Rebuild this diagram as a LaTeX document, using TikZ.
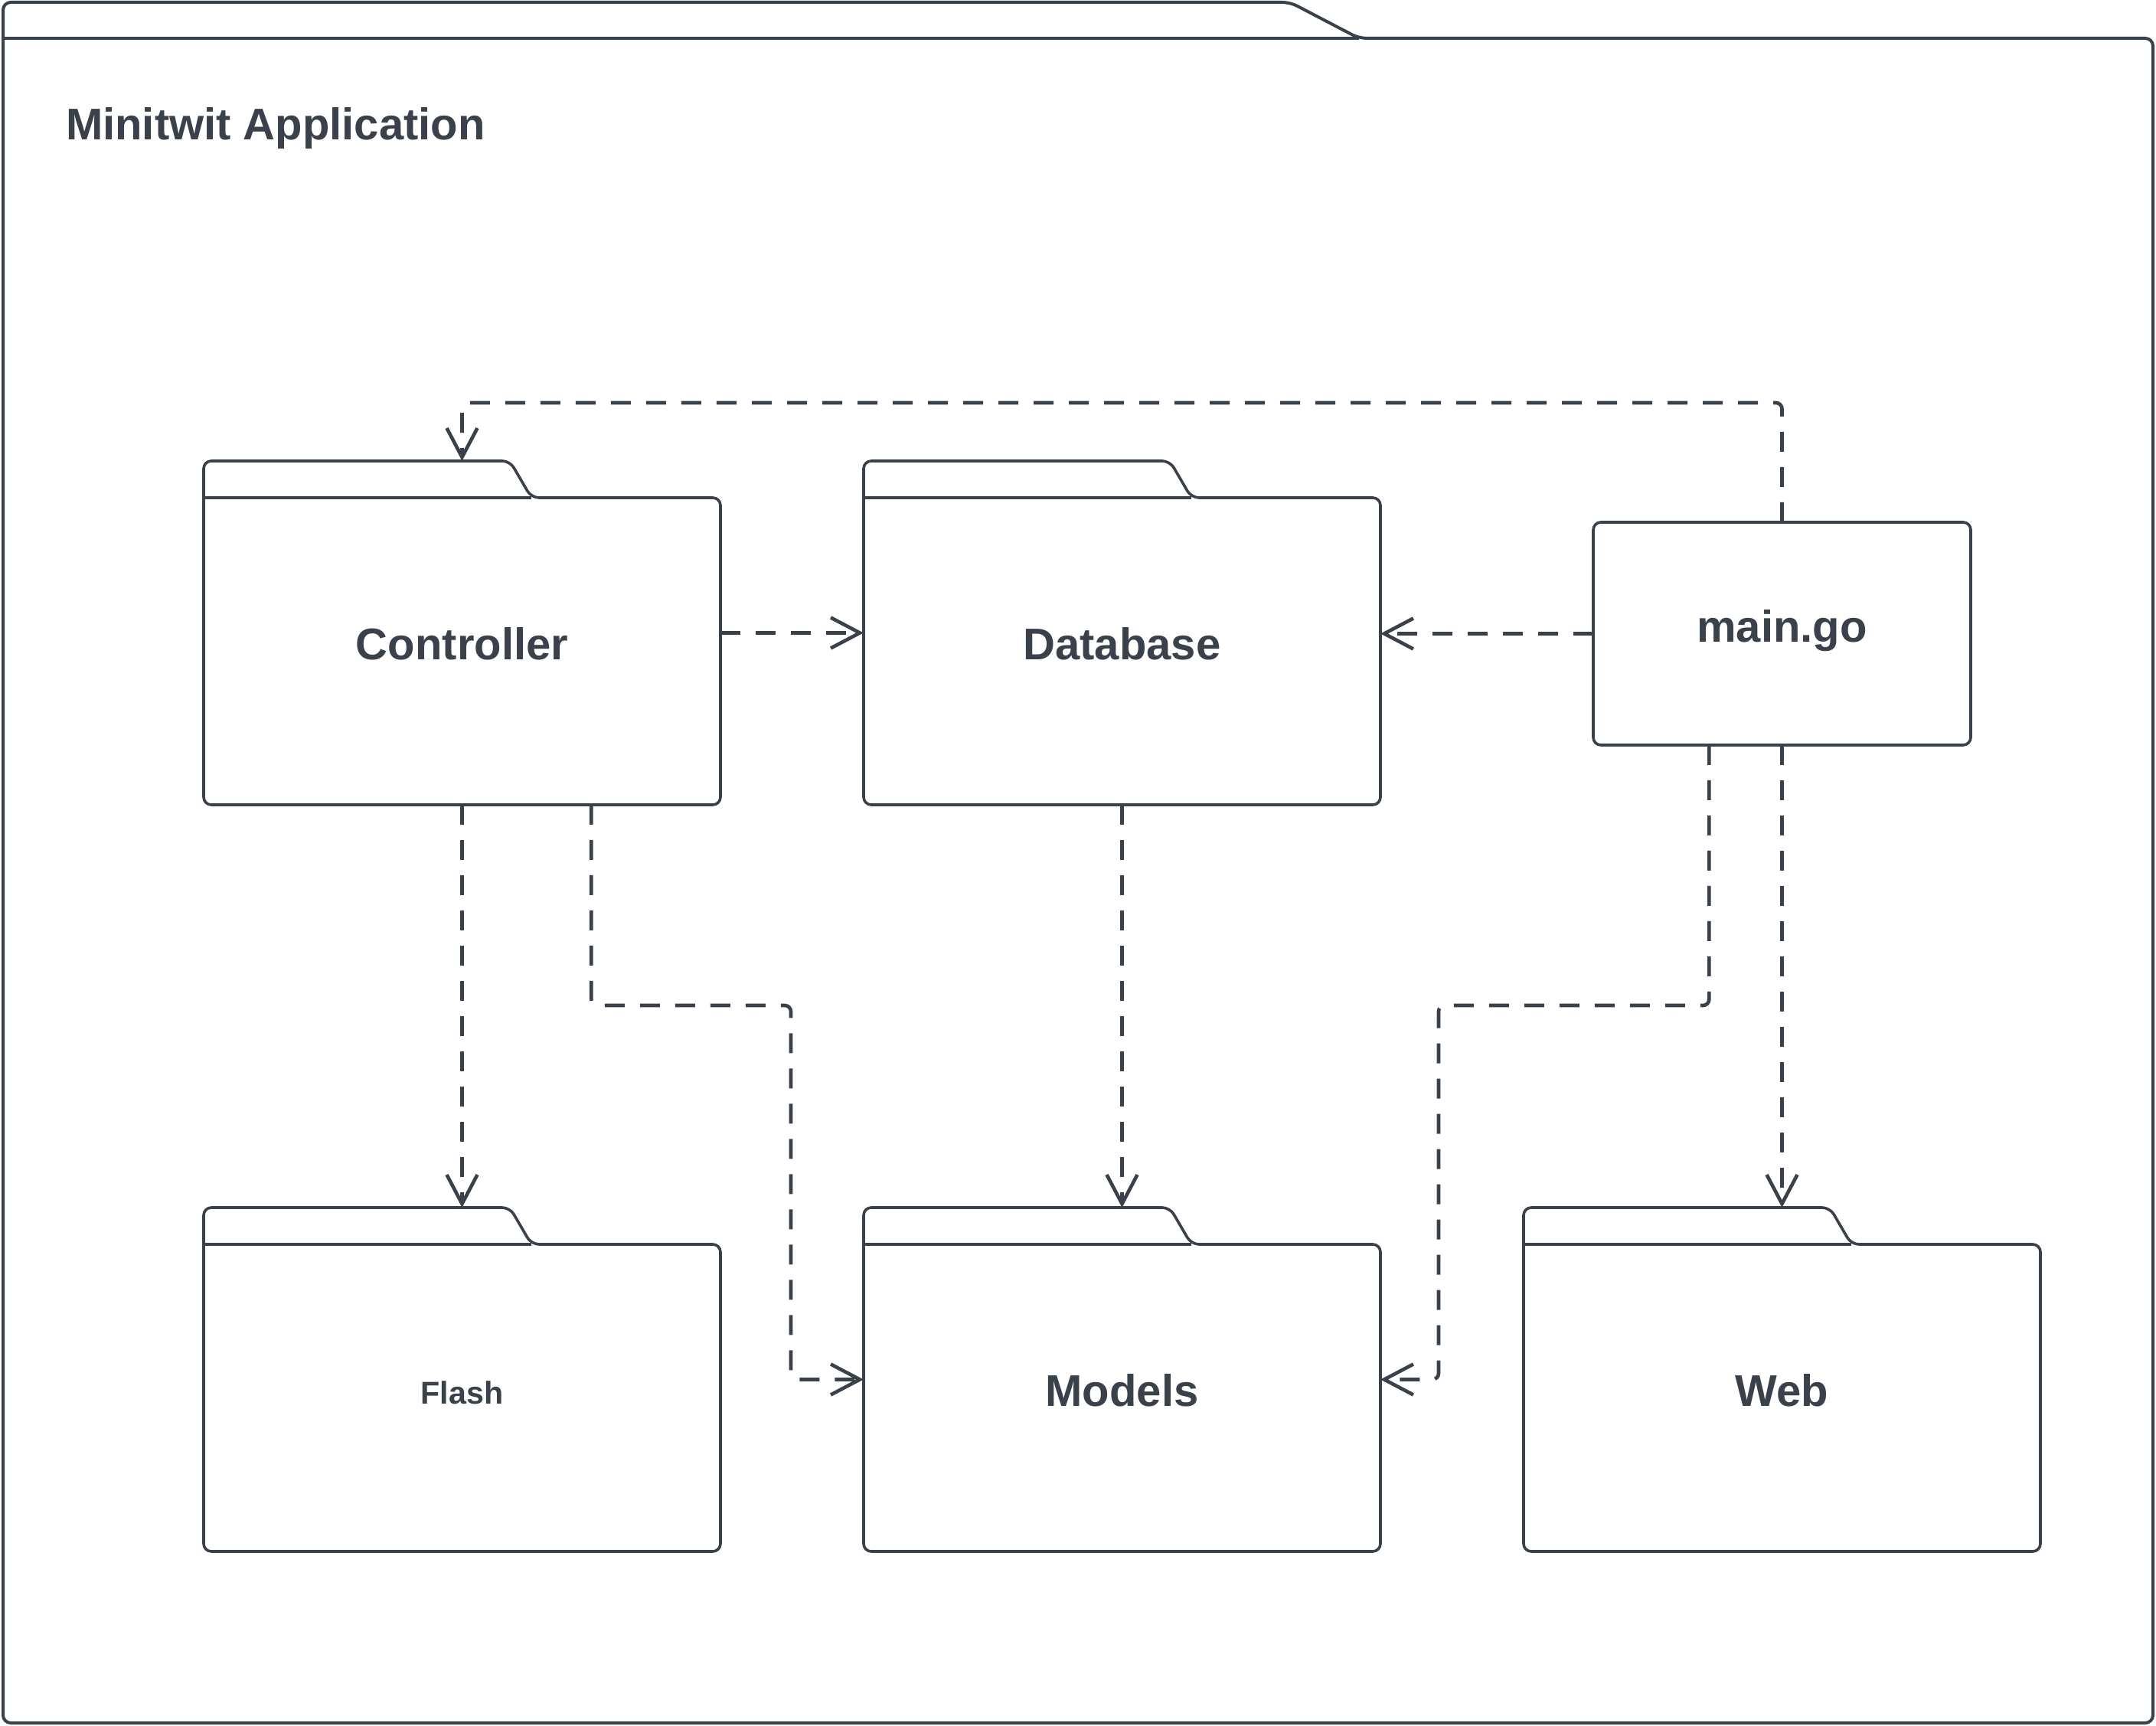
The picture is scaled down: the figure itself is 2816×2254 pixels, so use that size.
\documentclass[tikz,border=0pt]{standalone}
\usepackage{fontspec}
\setmainfont{Liberation Sans}
\usetikzlibrary{arrows.meta,calc}
\definecolor{ink}{HTML}{3A414A}
\newcommand\pkgoutline[1]{%
  \draw[pkgline] (#1.south west) -- (#1.north west) -- ([xshift=100pt]#1.north west)
    -- ([xshift=107pt,yshift=-12pt]#1.north west) -- ([yshift=-12pt]#1.north east)
    -- (#1.south east) -- cycle;
  \draw[plainline] ([yshift=-12pt]#1.north west) -- ([xshift=107pt,yshift=-12pt]#1.north west);}
\begin{document}
\begin{tikzpicture}[x=0.25pt,y=-0.25pt,
  plainline/.style={draw=ink,line width=0.9pt},
  pkgline/.style={plainline,rounded corners=2.5pt},
  pkgbox/.style={minimum width=168.75pt,minimum height=112.25pt,inner sep=0pt,outer sep=0pt},
  biglabel/.style={text=ink,font=\bfseries\fontsize{14.5pt}{17pt}\selectfont,inner sep=0pt,outer sep=0pt,text height=0.72em,text depth=0.18em},
  smalllabel/.style={text=ink,font=\bfseries\fontsize{10.3pt}{12pt}\selectfont,inner sep=0pt,outer sep=0pt,text height=0.72em,text depth=0.33em},
  dep/.style={draw=ink,line width=1.15pt,dash pattern=on 6.5pt off 5pt,rounded corners=2pt,-{Straight Barb[length=9.5pt,width=10pt]}}]

\useasboundingbox (0,0) rectangle (2816,2254);
\fill[white] (0,0) rectangle (2816,2254);

% outer package frame
\node[minimum width=702pt,minimum height=561.75pt,inner sep=0pt,outer sep=0pt] (app) at (1408,1126.5) {};
\draw[pkgline,line width=1pt] (app.south west) -- (app.north west) -- ([xshift=420.25pt]app.north west)
  -- ([xshift=442.75pt,yshift=-11.75pt]app.north west) -- ([yshift=-11.75pt]app.north east)
  -- (app.south east) -- cycle;
\draw[plainline,line width=1pt] ([yshift=-11.75pt]app.north west) -- ([xshift=442.75pt,yshift=-11.75pt]app.north west);
\node[biglabel,anchor=base west,text depth=0pt] (title) at (86,183) {Minitwit Application};

% packages
\node[pkgbox] (ctrl) at (603.5,826.5) {};
\node[pkgbox] (db) at (1465.5,826.5) {};
\node[pkgbox] (flash) at (603.5,1801.5) {};
\node[pkgbox] (models) at (1465.5,1801.5) {};
\node[pkgbox] (web) at (2327.5,1801.5) {};
\pkgoutline{ctrl}
\pkgoutline{db}
\pkgoutline{flash}
\pkgoutline{models}
\pkgoutline{web}
\node[biglabel] (ctrl-l) at ([yshift=-6pt]ctrl.center) {Controller};
\node[biglabel] (db-l) at ([yshift=-6pt]db.center) {Database};
\node[smalllabel] (flash-l) at ([yshift=-6pt]flash.center) {Flash};
\node[biglabel] (models-l) at ([yshift=-6pt]models.center) {Models};
\node[biglabel] (web-l) at ([yshift=-6pt]web.center) {Web};

% main.go
\node[biglabel,draw=ink,line width=0.9pt,rounded corners=2.5pt,minimum width=123.25pt,minimum height=72.75pt] (main) at (2327.5,827.5) {main.go};

% dependencies
\draw[dep] (main.north) -- ++(0,-156) -| (ctrl.north);
\draw[dep] (ctrl.east) -- (db.west);
\draw[dep] (main.west) -- (main.west -| db.east);
\draw[dep] (ctrl.south) -- (flash.north);
\draw[dep] ($(ctrl.south west)!0.75!(ctrl.south east)$) -- ++(0,262) -| ($(models.west)+(-95,0)$) -- (models.west);
\draw[dep] (db.south) -- (models.north);
\draw[dep] ($(main.south west)!0.307!(main.south east)$) -- ++(0,340) -| ($(models.east)+(76,0)$) -- (models.east);
\draw[dep] (main.south) -- (web.north);
\end{tikzpicture}
\end{document}
